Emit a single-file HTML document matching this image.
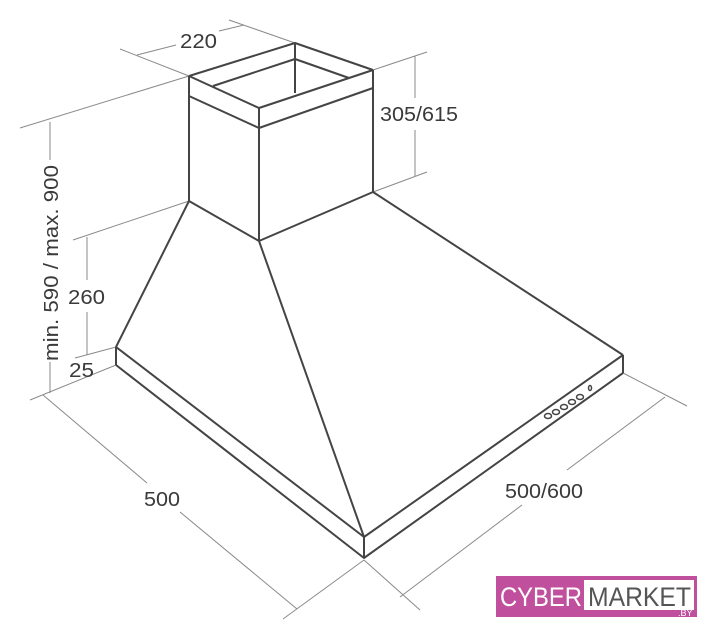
<!DOCTYPE html>
<html><head><meta charset="utf-8"><style>
html,body{margin:0;padding:0;background:#fff;}
svg{display:block}
text{font-family:"Liberation Sans",sans-serif;fill:#3a3a3a}
</style></head><body>
<svg width="707" height="640" viewBox="0 0 707 640" xmlns="http://www.w3.org/2000/svg">
<g stroke="#8a8a8a" stroke-width="1" fill="none">
<line x1="120" y1="49" x2="189" y2="76"/>
<line x1="229" y1="20" x2="295" y2="43"/>
<line x1="137" y1="55" x2="176" y2="45"/>
<line x1="219" y1="31" x2="244" y2="25"/>
<line x1="373" y1="70" x2="427" y2="52"/>
<line x1="373" y1="192" x2="427" y2="172"/>
<line x1="415" y1="56" x2="415" y2="98"/>
<line x1="415" y1="130" x2="415" y2="176"/>
<line x1="20" y1="128" x2="189" y2="76"/>
<line x1="50" y1="122" x2="50" y2="160"/>
<line x1="50" y1="362" x2="50" y2="393"/>
<line x1="73" y1="240" x2="189" y2="201"/>
<line x1="87" y1="237" x2="87" y2="280"/>
<line x1="87" y1="312" x2="87" y2="355"/>
<line x1="75" y1="358" x2="116" y2="347"/>
<line x1="30" y1="400" x2="116" y2="365"/>
<line x1="43" y1="395" x2="147" y2="483"/>
<line x1="180" y1="512" x2="297" y2="609"/>
<line x1="283" y1="619" x2="364" y2="560"/>
<line x1="364" y1="560" x2="420" y2="610"/>
<line x1="623" y1="373" x2="687" y2="406"/>
<line x1="400" y1="597" x2="522" y2="505"/>
<line x1="567" y1="470" x2="665" y2="397"/>
</g>
<g stroke="#444" stroke-width="2" fill="none" stroke-linejoin="round">
<polyline points="189,76 295,43 373,70"/>
<polyline points="189,76 259,108 373,70"/>
<polyline points="189,96 259,128 373,88"/>
<polyline points="213,86 295,59 349,78"/>
<line x1="295" y1="43" x2="295" y2="93"/>
<line x1="189" y1="76" x2="189" y2="201"/>
<line x1="259" y1="108" x2="259" y2="241"/>
<line x1="373" y1="70" x2="373" y2="192"/>
<polyline points="189,201 259,241 373,192"/>
<line x1="189" y1="201" x2="116" y2="347"/>
<line x1="259" y1="241" x2="364" y2="537"/>
<line x1="373" y1="192" x2="623" y2="355"/>
<polyline points="116,347 364,537 623,355"/>
<polyline points="116,365 364,558 623,373"/>
<line x1="116" y1="347" x2="116" y2="365"/>
<line x1="364" y1="537" x2="364" y2="558"/>
<line x1="623" y1="355" x2="623" y2="373"/>
</g>
<g stroke="#444" stroke-width="1.5" fill="none">
<ellipse cx="548" cy="416" rx="3.5" ry="2.5"/>
<ellipse cx="556" cy="412" rx="3.5" ry="2.5"/>
<ellipse cx="564" cy="407" rx="3.5" ry="2.5"/>
<ellipse cx="572" cy="402" rx="3.5" ry="2.5"/>
<ellipse cx="580" cy="397" rx="3.5" ry="2.5"/>
<ellipse cx="590" cy="388" rx="1.5" ry="2.5"/>
</g>
<g font-size="20">
<text x="180" y="48" textLength="37" lengthAdjust="spacingAndGlyphs">220</text>
<text x="380" y="121" textLength="78" lengthAdjust="spacingAndGlyphs">305/615</text>
<text x="68" y="304" textLength="37" lengthAdjust="spacingAndGlyphs">260</text>
<text x="69" y="377" textLength="25" lengthAdjust="spacingAndGlyphs">25</text>
<text x="144" y="506" textLength="36" lengthAdjust="spacingAndGlyphs">500</text>
<text x="505" y="498" textLength="78" lengthAdjust="spacingAndGlyphs">500/600</text>
<text transform="translate(58,263) rotate(-90)" text-anchor="middle" textLength="196" lengthAdjust="spacingAndGlyphs">min. 590 / max. 900</text>
</g>
<rect x="496" y="576" width="201" height="41" fill="#c0509e"/>
<rect x="584" y="580" width="110" height="30" fill="#fff"/>
<text x="500" y="606" font-size="27" style="fill:#fff" textLength="82" lengthAdjust="spacingAndGlyphs">CYBER</text>
<text x="588" y="606" font-size="27" style="fill:#555" textLength="103" lengthAdjust="spacingAndGlyphs">MARKET</text>
<text x="678" y="616" font-size="9" style="fill:#fff">.BY</text>
</svg>
</body></html>
